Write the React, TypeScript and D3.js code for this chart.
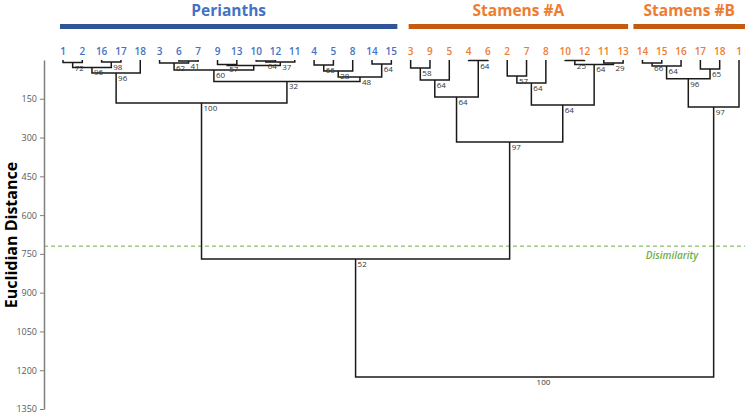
import React from "react";
import * as d3 from "d3";

// ---------- data ----------
const perianthLeaves = ["1", "2", "16", "17", "18", "3", "6", "7", "9", "13", "10", "12", "11", "4", "5", "8", "14", "15"];
const stamenALeaves = ["3", "9", "5", "4", "6", "2", "7", "8", "10", "12", "11", "13"];
const stamenBLeaves = ["14", "15", "16", "17", "18", "1"];
const groupNames = ["Perianths", "Stamens #A", "Stamens #B"];
const yTicks = [150, 300, 450, 600, 750, 900, 1050, 1200, 1350];
const dissimilarityCut = 720;
const cutLabel = "Disimilarity";
const yTitle = "Euclidian Distance";

// merges: children ("P"/"A"/"B" + leaf label, or "m" + merge index), height, support value
const mergeLeft = ["P1", "P16", "m0", "m2", "P6", "P3", "P9", "P10", "m7", "m6", "m5", "P4", "m11", "P14", "m12", "m10", "m3",
  "A3", "m17", "A4", "m18", "A2", "m21", "A10", "A11", "m23", "m22", "m20",
  "B14", "m28", "B17", "m29", "m31", "m16", "m33"];
const mergeRight = ["P2", "P17", "m1", "P18", "P7", "m4", "P13", "P12", "P11", "m8", "m9", "P5", "P8", "P15", "m13", "m14", "m15",
  "A9", "A5", "A6", "m19", "A7", "A8", "A12", "A13", "m24", "m25", "m26",
  "B15", "B16", "B18", "m30", "B1", "m27", "m32"];
const mergeHeight = [10, 8, 29, 50, 4, 12, 17, 4, 8, 21, 39, 19, 43, 15, 66, 83, 166,
  31, 77, 2, 143, 62, 89, 2, 12, 17, 174, 317,
  12, 23, 35, 73, 182, 770, 1226];
const mergeSupport = ["72", "98", "96", "96", "41", "62", "57", "64", "37", "", "60", "66", "28", "64", "48", "32", "100",
  "58", "64", "64", "64", "57", "64", "25", "29", "64", "64", "97",
  "66", "64", "65", "96", "97", "52", "100"];

// ---------- layout ----------
const W = 750;
const H = 416;
const FONT = "'Open Sans', 'Noto Sans', sans-serif";
const BLUE = "#4472C4";
const ORANGE = "#ED7D31";
const BLUE_BAR = "#2F5597";
const ORANGE_BAR = "#C55A11";

const leafIds = [
  ...perianthLeaves.map((l) => "P" + l),
  ...stamenALeaves.map((l) => "A" + l),
  ...stamenBLeaves.map((l) => "B" + l),
];

const x = d3.scalePoint<string>().domain(leafIds).range([63, 739]);
const y = d3.scaleLinear().domain([0, 1350]).range([60, 409]);

function buildNodes() {
  const pos: Record<string, { x: number; h: number }> = {};
  leafIds.forEach((id) => (pos[id] = { x: x(id) as number, h: 0 }));
  mergeLeft.forEach((l, i) => {
    const a = pos[l];
    const b = pos[mergeRight[i]];
    pos["m" + i] = { x: (a.x + b.x) / 2, h: mergeHeight[i] };
  });
  return pos;
}

const AxisLeft: React.FC = () => {
  const ref = React.useRef<SVGGElement>(null);
  React.useEffect(() => {
    if (!ref.current) return;
    const g = d3.select(ref.current);
    g.call(
      d3.axisLeft(y).tickValues(yTicks).tickFormat(d3.format("d") as any)
        .tickSize(4).tickSizeOuter(0).tickPadding(3)
    );
    g.select(".domain").attr("stroke", "#7f7f7f").attr("stroke-width", 1.5);
    g.selectAll(".tick line").attr("stroke", "#7f7f7f");
    g.selectAll(".tick text").attr("fill", "#595959").style("font-size", "9px").style("font-family", FONT);
  }, []);
  return <g ref={ref} transform="translate(44,0)" />;
};

export default function App() {
  const pos = buildNodes();
  const groups = [
    { name: groupNames[0], leaves: leafIds.slice(0, perianthLeaves.length), color: BLUE, bar: BLUE_BAR },
    { name: groupNames[1], leaves: leafIds.slice(perianthLeaves.length, perianthLeaves.length + stamenALeaves.length), color: ORANGE, bar: ORANGE_BAR },
    { name: groupNames[2], leaves: leafIds.slice(perianthLeaves.length + stamenALeaves.length), color: ORANGE, bar: ORANGE_BAR },
  ];
  const barPad = [[3, 6], [2, 5], [9, 6]];

  return (
    <div style={{ position: "fixed", left: 0, top: 0 }}>
      <svg width={W} height={H} style={{ display: "block", background: "#fff" }}>
        {/* group headers */}
        {groups.map((g, i) => {
          const x0 = (x(g.leaves[0]) as number) - barPad[i][0];
          const x1 = (x(g.leaves[g.leaves.length - 1]) as number) + barPad[i][1];
          return (
            <g key={g.name}>
              <rect x={x0} y={24} width={x1 - x0} height={5} fill={g.bar} />
              <text x={(x0 + x1) / 2} y={16} textAnchor="middle" fill={g.color}
                style={{ fontFamily: FONT, fontWeight: 700, fontSize: 15.5 }}>{g.name}</text>
            </g>
          );
        })}

        {/* leaf labels */}
        {leafIds.map((id) => (
          <text key={id} x={x(id) as number} y={55} textAnchor="middle"
            fill={id[0] === "P" ? BLUE : ORANGE}
            style={{ fontFamily: FONT, fontWeight: 600, fontSize: 10 }}>{id.slice(1)}</text>
        ))}

        {/* cut line */}
        <line x1={44} x2={745} y1={y(dissimilarityCut)} y2={y(dissimilarityCut)}
          stroke="#70AD47" strokeWidth={1} strokeDasharray="4,3" />
        <text x={672} y={y(dissimilarityCut) + 13} textAnchor="middle" fill="#70AD47"
          style={{ fontFamily: FONT, fontStyle: "italic", fontWeight: 600, fontSize: 10 }}>{cutLabel}</text>

        {/* dendrogram */}
        {mergeLeft.map((l, i) => {
          const a = pos[l];
          const b = pos[mergeRight[i]];
          const yy = y(mergeHeight[i]);
          const d = `M${a.x},${y(a.h)}V${yy}H${b.x}V${y(b.h)}`;
          return <path key={"p" + i} d={d} fill="none" stroke="#1a1a1a" strokeWidth={1.5} />;
        })}
        {mergeLeft.map((l, i) => {
          const m = pos["m" + i];
          return (
            <text key={"t" + i} x={m.x + 2} y={y(m.h) + 8} fill="#333"
              style={{ fontFamily: FONT, fontSize: 8 }}>{mergeSupport[i]}</text>
          );
        })}

        <AxisLeft />
        <text transform={`translate(17,235) rotate(-90)`} textAnchor="middle" fill="#000"
          style={{ fontFamily: FONT, fontWeight: 700, fontSize: 16 }}>{yTitle}</text>
      </svg>
    </div>
  );
}
